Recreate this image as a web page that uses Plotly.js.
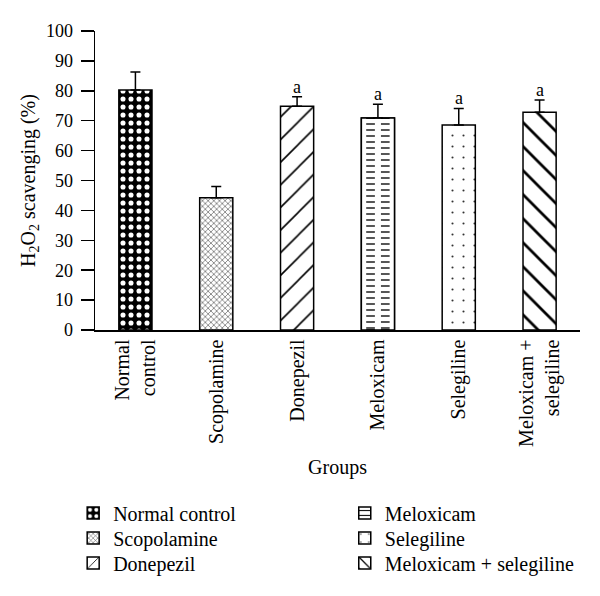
<!DOCTYPE html>
<html>
<head>
<meta charset="utf-8">
<script src="https://cdn.plot.ly/plotly-3.0.1.min.js"></script>
<style>html,body{margin:0;padding:0;background:#fff;}#chart{width:600px;height:596px;}</style>
</head>
<body>
<div id="chart"></div>
<script>
const groups = ['Normal control', 'Scopolamine', 'Donepezil', 'Meloxicam', 'Selegiline', 'Meloxicam + selegiline'];
const tickLabels = ['Normal<br>control', 'Scopolamine', 'Donepezil', 'Meloxicam', 'Selegiline', 'Meloxicam +<br>selegiline'];
const means = [80.3, 44.2, 74.8, 70.9, 68.6, 72.8];
const errors = [6.0, 3.8, 3.2, 4.6, 5.5, 4.1];
const sigLabels = ['', '', 'a', 'a', 'a', 'a'];

const FONT = 'Liberation Serif, Times New Roman, serif';
const BAR_W = 0.41;
const patterns = [
  {shape: '.', bgcolor: '#000', fgcolor: '#fff', size: 8, solidity: 0.32},
  {shape: 'x', bgcolor: '#fff', fgcolor: '#555', size: 4, solidity: 0.3},
  {shape: '/', bgcolor: '#fff', fgcolor: '#000', size: 16, solidity: 0.1},
  {shape: '-', bgcolor: '#fff', fgcolor: '#000', size: 6, solidity: 0.22},
  {shape: '.', bgcolor: '#fff', fgcolor: '#333', size: 11, solidity: 0.03},
  {shape: '\\', bgcolor: '#fff', fgcolor: '#000', size: 17, solidity: 0.16}
];
// white gaps that cut the Meloxicam lines into dashes: [offset, width] in category units
const dashGaps = [[-BAR_W / 2, 0.06], [-0.0375, 0.075], [BAR_W / 2 - 0.06, 0.06]];

function errBar(i) {
  return {type: 'data', symmetric: false, array: [errors[i]], arrayminus: [0], color: '#000', thickness: 1.5, width: 5};
}
const legendIds = ['legend', 'legend2', 'legend3', 'legend4', 'legend5', 'legend6'];

const traces = [];
groups.forEach((g, i) => {
  const dashed = patterns[i].shape === '-';
  traces.push({
    type: 'bar', x: [g], y: [means[i]], name: g, width: BAR_W,
    legend: legendIds[i],
    marker: {color: '#fff', pattern: patterns[i], line: {color: '#000', width: 1.5}},
    error_y: dashed ? undefined : errBar(i),
    hoverinfo: 'skip'
  });
  if (dashed) {
    dashGaps.forEach(([off, w]) => traces.push({
      type: 'bar', x: [g], y: [means[i]], offset: off, width: w, showlegend: false,
      marker: {color: '#fff', line: {width: 0}}, hoverinfo: 'skip'
    }));
    traces.push({
      type: 'bar', x: [g], y: [means[i]], width: BAR_W, showlegend: false,
      marker: {color: 'rgba(0,0,0,0)', line: {color: '#000', width: 1.5}},
      error_y: errBar(i), hoverinfo: 'skip'
    });
  }
});

const annotations = groups.map((g, i) => ({
  x: g, y: means[i] + errors[i], xref: 'x', yref: 'y', text: sigLabels[i],
  showarrow: false, yanchor: 'bottom', yshift: -2,
  font: {family: FONT, size: 18, color: '#000'}
})).filter(a => a.text);

const layout = {
  width: 600, height: 596,
  margin: {l: 95, r: 20, t: 31, b: 266, autoexpand: false},
  paper_bgcolor: '#fff', plot_bgcolor: '#fff',
  font: {family: FONT, size: 20, color: '#000'},
  barmode: 'overlay',
  xaxis: {
    type: 'category', tickmode: 'array', tickvals: groups, ticktext: tickLabels,
    tickangle: -90, range: [-0.5, 5.5], showline: true, linecolor: '#000', linewidth: 1.5,
    ticks: '', showgrid: false, zeroline: false, automargin: false,
    tickfont: {family: FONT, size: 20, color: '#000'},
    title: {text: 'Groups', font: {family: FONT, size: 20, color: '#000'}, standoff: 14}
  },
  yaxis: {
    range: [0, 100], dtick: 10, tick0: 0, showline: true, linecolor: '#000', linewidth: 1.5,
    ticks: 'outside', ticklen: 13, tickwidth: 1.5, tickcolor: '#000', ticklabelstandoff: 4,
    showgrid: false, zeroline: false, automargin: false,
    tickfont: {family: FONT, size: 18, color: '#000'},
    title: {text: 'H<sub>2</sub>O<sub>2</sub> scavenging (%)', font: {family: FONT, size: 20, color: '#000'}, standoff: 5}
  },
  shapes: [{type: 'line', xref: 'paper', yref: 'y', x0: -0.016, x1: 0, y0: 0, y1: 0, line: {color: '#000', width: 1.5}}],
  annotations: annotations,
  showlegend: true
};
// one single-entry legend per row: two columns of three rows
const legendX = [-0.045, -0.045, -0.045, 0.515, 0.515, 0.515];
const legendY = [-0.612, -0.696, -0.779, -0.612, -0.696, -0.779];
legendIds.forEach((id, i) => {
  layout[id] = {x: legendX[i], xanchor: 'left', y: legendY[i], yanchor: 'middle', orientation: 'v',
    bgcolor: 'rgba(0,0,0,0)', font: {family: FONT, size: 20, color: '#000'}, itemwidth: 30};
});

Plotly.newPlot('chart', traces, layout, {displayModeBar: false, staticPlot: true});
</script>
</body>
</html>
